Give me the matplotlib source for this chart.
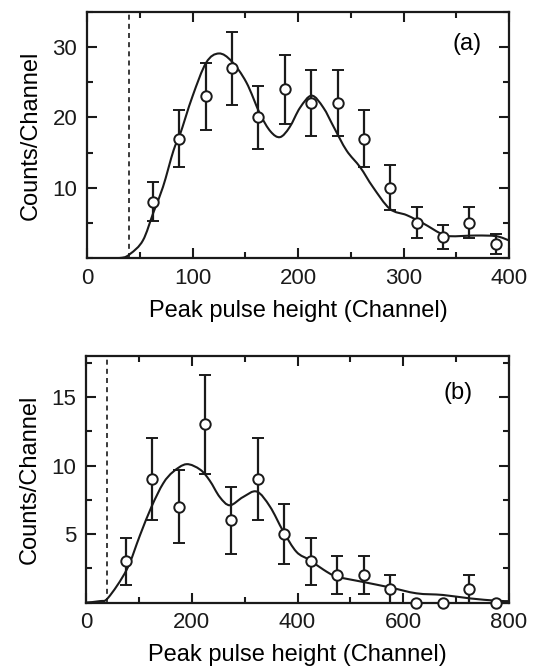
import matplotlib
matplotlib.use("Agg")
import matplotlib.pyplot as plt
from matplotlib.ticker import MultipleLocator
from matplotlib.path import Path
from matplotlib.patches import PathPatch

plt.rcParams['font.family'] = ['Liberation Sans', 'DejaVu Sans']

# ---- Panel (a) data ----
a_x = [62.5, 87.5, 112.5, 137.5, 162.5, 187.5, 212.5, 237.5, 262.5, 287.5, 312.5, 337.5, 362.5, 387.5]
a_y = [8, 17, 23, 27, 20, 24, 22, 22, 17, 10, 5, 3, 5, 2]
a_err = [2.8, 4.1, 4.8, 5.2, 4.5, 4.9, 4.7, 4.7, 4.1, 3.2, 2.2, 1.7, 2.2, 1.4]
a_fit_x = [0, 31, 41, 53, 63, 72, 82, 88, 100, 113, 125, 137, 151, 164, 174, 183,
           192, 202, 213, 224, 234, 246, 259, 271, 287, 303, 319, 335, 344, 369, 388, 400]
a_fit_y = [0, 0, 0.6, 2.5, 6.5, 10.1, 15.3, 17.5, 23, 27.8, 29.1, 28, 25, 20.5, 18, 17.2,
           18.6, 21.4, 23.1, 21.4, 18.6, 15.3, 12.9, 10.1, 7.0, 6.1, 4.9, 3.5, 3.1, 3.2, 3.1, 2.5]

# ---- Panel (b) data ----
b_x = [75, 125, 175, 225, 275, 325, 375, 425, 475, 525, 575, 625, 675, 725, 775]
b_y = [3, 9, 7, 13, 6, 9, 5, 3, 2, 2, 1, 0, 0, 1, 0]
b_err = [1.7, 3.0, 2.65, 3.6, 2.45, 3.0, 2.2, 1.7, 1.4, 1.4, 1.0, 0, 0, 1.0, 0]
b_fit_x = [0, 26, 42, 77, 102, 124, 146, 165, 190, 216, 234, 253, 272, 297, 323, 348,
           373, 398, 423, 449, 474, 524, 575, 625, 675, 726, 776, 800]
b_fit_y = [0, 0.1, 0.35, 2.4, 4.9, 7.0, 8.7, 9.55, 10.1, 9.7, 8.9, 7.7, 7.1, 7.7, 8.1, 7.0,
           5.2, 3.7, 3.1, 2.4, 1.9, 1.5, 1.1, 0.67, 0.55, 0.3, 0.13, 0.1]

cutoff_a = 40
cutoff_b = 40

fig = plt.figure(figsize=(5.36, 6.69), dpi=100)
ax_a = fig.add_axes([87/536, 1-258/669, 422/536, 246/669])
ax_b = fig.add_axes([86/536, 1-602.5/669, 423/536, 246.5/669])


def smooth_path(xs, ys):
    # Render the read fit points as a smooth Bezier path (Catmull-Rom tangents)
    n = len(xs)
    verts = [(xs[0], ys[0])]
    codes = [Path.MOVETO]
    for i in range(n - 1):
        x0, y0 = (xs[i - 1], ys[i - 1]) if i > 0 else (xs[i], ys[i])
        x1, y1 = xs[i], ys[i]
        x2, y2 = xs[i + 1], ys[i + 1]
        x3, y3 = (xs[i + 2], ys[i + 2]) if i + 2 < n else (x2, y2)
        c1 = (x1 + (x2 - x0) / 6.0, y1 + (y2 - y0) / 6.0)
        c2 = (x2 - (x3 - x1) / 6.0, y2 - (y3 - y1) / 6.0)
        verts += [c1, c2, (x2, y2)]
        codes += [Path.CURVE4] * 3
    return Path(verts, codes)


def style(ax, xmaj, xmin, ymaj, ymin):
    ax.xaxis.set_major_locator(MultipleLocator(xmaj))
    ax.xaxis.set_minor_locator(MultipleLocator(xmin))
    ax.yaxis.set_major_locator(MultipleLocator(ymaj))
    ax.yaxis.set_minor_locator(MultipleLocator(ymin))
    ax.tick_params(which='both', direction='in', top=True, right=True, width=1.5, colors='#1a1a1a')
    ax.tick_params(which='major', length=7.2, labelsize=16, pad=7)
    ax.tick_params(which='minor', length=4.3)
    for s in ax.spines.values():
        s.set_linewidth(1.6)
        s.set_color('#1a1a1a')


def draw(ax, x, y, err, fx, fy, cut):
    ax.add_patch(PathPatch(smooth_path(fx, fy), fill=False, edgecolor='#1a1a1a', lw=1.5, zorder=2))
    ax.axvline(cut, color='#1a1a1a', lw=1.2, ls=(0, (3, 2.5)), zorder=1)
    ax.errorbar(x, y, yerr=err, fmt='o', ms=7.5, mfc='white', mec='#1a1a1a', mew=1.4,
                ecolor='#1a1a1a', elinewidth=1.6, capsize=4.5, capthick=1.6, zorder=3,
                clip_on=False)


draw(ax_a, a_x, a_y, a_err, a_fit_x, a_fit_y, cutoff_a)
ax_a.set_xlim(0, 400)
ax_a.set_ylim(0, 35)
style(ax_a, 100, 50, 10, 5)
ax_a.set_yticks([10, 20, 30])
ax_a.set_xlabel('Peak pulse height (Channel)', fontsize=17, labelpad=8)
ax_a.set_ylabel('Counts/Channel', fontsize=17, labelpad=8)
ax_a.text(360, 30.5, '(a)', fontsize=17, ha='center', va='center')

draw(ax_b, b_x, b_y, b_err, b_fit_x, b_fit_y, cutoff_b)
ax_b.set_xlim(0, 800)
ax_b.set_ylim(0, 18)
style(ax_b, 200, 100, 5, 2.5)
ax_b.set_yticks([5, 10, 15])
ax_b.set_xlabel('Peak pulse height (Channel)', fontsize=17, labelpad=8)
ax_b.set_ylabel('Counts/Channel', fontsize=17, labelpad=8)
ax_b.text(704, 15.3, '(b)', fontsize=17, ha='center', va='center')

fig.savefig('out.png', dpi=100)
